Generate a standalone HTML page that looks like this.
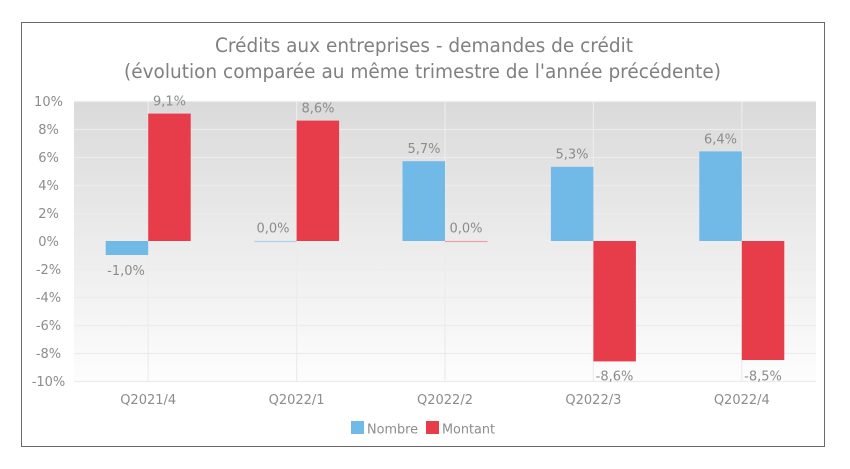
<!DOCTYPE html>
<html>
<head>
<meta charset="utf-8">
<style>
  html, body { margin: 0; padding: 0; background: #ffffff; }
  svg { display: block; }
  text { font-family: "DejaVu Sans", "Liberation Sans", sans-serif; }
</style>
</head>
<body>
<svg width="850" height="469" viewBox="0 0 850 469" xmlns="http://www.w3.org/2000/svg">
  <defs>
    <linearGradient id="bg" x1="0" y1="0" x2="0" y2="1">
      <stop offset="0" stop-color="#dadada"/>
      <stop offset="1" stop-color="#fdfdfd"/>
    </linearGradient>
  </defs>
  <rect x="0" y="0" width="850" height="469" fill="#ffffff"/>
  <!-- outer frame -->
  <rect x="21.5" y="22.5" width="803" height="424" fill="#ffffff" stroke="#6a6a6a" stroke-width="1"/>

  <!-- title -->
  <text x="424" y="52" text-anchor="middle" font-size="19.5" fill="#808080" textLength="418" lengthAdjust="spacingAndGlyphs">Crédits aux entreprises - demandes de crédit</text>
  <text x="422.5" y="78" text-anchor="middle" font-size="19.5" fill="#808080" textLength="597" lengthAdjust="spacingAndGlyphs">(évolution comparée au même trimestre de l'année précédente)</text>

  <!-- plot area -->
  <rect x="74" y="101" width="742" height="280" fill="url(#bg)"/>
  <g stroke="#ececec" stroke-width="1.2">
    <line x1="74" y1="101.5" x2="816" y2="101.5"/>
    <line x1="74" y1="129.5" x2="816" y2="129.5"/>
    <line x1="74" y1="157.5" x2="816" y2="157.5"/>
    <line x1="74" y1="185.5" x2="816" y2="185.5"/>
    <line x1="74" y1="213.5" x2="816" y2="213.5"/>
    <line x1="74" y1="241.5" x2="816" y2="241.5"/>
    <line x1="74" y1="269.5" x2="816" y2="269.5"/>
    <line x1="74" y1="297.5" x2="816" y2="297.5"/>
    <line x1="74" y1="325.5" x2="816" y2="325.5"/>
    <line x1="74" y1="353.5" x2="816" y2="353.5"/>
    <line x1="74" y1="381.5" x2="816" y2="381.5"/>
    <line x1="148.2" y1="101" x2="148.2" y2="381"/>
    <line x1="296.6" y1="101" x2="296.6" y2="381"/>
    <line x1="445" y1="101" x2="445" y2="381"/>
    <line x1="593.4" y1="101" x2="593.4" y2="381"/>
    <line x1="741.8" y1="101" x2="741.8" y2="381"/>
  </g>

  <!-- y axis labels -->
  <g font-size="13" fill="#8c8c8c" text-anchor="middle">
    <text x="48.5" y="106">10%</text>
    <text x="48.5" y="134">8%</text>
    <text x="48.5" y="162">6%</text>
    <text x="48.5" y="190">4%</text>
    <text x="48.5" y="218">2%</text>
    <text x="48.5" y="246">0%</text>
    <text x="48.5" y="274">-2%</text>
    <text x="48.5" y="302">-4%</text>
    <text x="48.5" y="330">-6%</text>
    <text x="48.5" y="358">-8%</text>
    <text x="48.5" y="386">-10%</text>
  </g>

  <!-- bars: Nombre (blue) -->
  <g fill="#71b9e7">
    <rect x="105.7" y="241" width="42.5" height="14"/>
    <rect x="402.5" y="161.2" width="42.5" height="79.8"/>
    <rect x="550.9" y="166.8" width="42.5" height="74.2"/>
    <rect x="699.3" y="151.4" width="42.5" height="89.6"/>
  </g>
  <line x1="254.1" y1="241.5" x2="296.6" y2="241.5" stroke="#a9d3ef" stroke-width="1.2"/>

  <!-- bars: Montant (red) -->
  <g fill="#e73c4a">
    <rect x="148.2" y="113.6" width="42.5" height="127.4"/>
    <rect x="296.6" y="120.6" width="42.5" height="120.4"/>
    <rect x="593.4" y="241" width="42.5" height="120.4"/>
    <rect x="741.8" y="241" width="42.5" height="119"/>
  </g>
  <line x1="445" y1="241.5" x2="487.5" y2="241.5" stroke="#f0a0a6" stroke-width="1.2"/>

  <!-- data labels -->
  <g font-size="13" fill="#8c8c8c" text-anchor="middle">
    <text x="169.5" y="105.5">9,1%</text>
    <text x="126" y="275">-1,0%</text>
    <text x="273" y="232.5">0,0%</text>
    <text x="318" y="112.5">8,6%</text>
    <text x="424" y="153">5,7%</text>
    <text x="466" y="232.5">0,0%</text>
    <text x="572" y="158.5">5,3%</text>
    <text x="614.5" y="380.5">-8,6%</text>
    <text x="720.5" y="143.5">6,4%</text>
    <text x="763" y="380.5">-8,5%</text>
  </g>

  <!-- x axis labels -->
  <g font-size="13" fill="#8c8c8c" text-anchor="middle">
    <text x="148.2" y="404">Q2021/4</text>
    <text x="296.6" y="404">Q2022/1</text>
    <text x="445" y="404">Q2022/2</text>
    <text x="593.4" y="404">Q2022/3</text>
    <text x="741.8" y="404">Q2022/4</text>
  </g>

  <!-- legend -->
  <rect x="351" y="421" width="13" height="13" fill="#71b9e7"/>
  <text x="367" y="433.5" font-size="13" fill="#8c8c8c" textLength="51" lengthAdjust="spacingAndGlyphs">Nombre</text>
  <rect x="426" y="421" width="13" height="13" fill="#e73c4a"/>
  <text x="442" y="433.5" font-size="13" fill="#8c8c8c" textLength="53" lengthAdjust="spacingAndGlyphs">Montant</text>
</svg>
</body>
</html>
